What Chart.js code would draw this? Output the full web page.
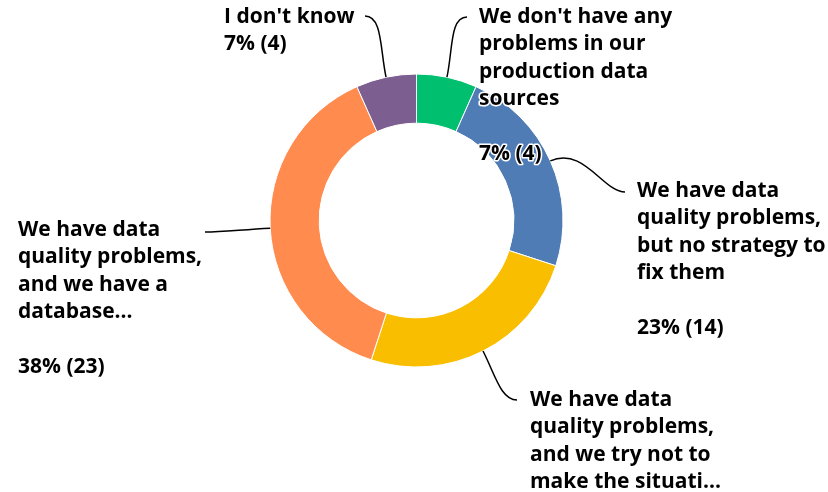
<!DOCTYPE html>
<html>
<head>
<meta charset="utf-8">
<script src="https://cdn.jsdelivr.net/npm/chart.js@4/dist/chart.umd.min.js"></script>
<style>
html,body{margin:0;padding:0;background:#fff;}
#wrap{width:828px;height:492px;position:relative;}
</style>
</head>
<body>
<div id="wrap"><canvas id="c" width="828" height="492"></canvas></div>
<script>
// ---- data ----
const categories = [
  ["We don't have any", "problems in our", "production data", "sources"],
  ["We have data", "quality problems,", "but no strategy to", "fix them"],
  ["We have data", "quality problems,", "and we try not to", "make the situati..."],
  ["We have data", "quality problems,", "and we have a", "database..."],
  ["I don't know"]
];
const counts = [4, 14, 15, 23, 4];
const colors = ["#00BF6F", "#507CB6", "#F9BE00", "#FF8B4F", "#7D5E90"];

// ---- label layout (positions of label text and leader-line end) ----
const labelLayout = [
  {x: 479, y: 17, gap: true,  ax: 467, ay: 17},
  {x: 637, y: 191, gap: true, ax: 625, ay: 192},
  {x: 530, y: 400, gap: true, ax: 517, ay: 400},
  {x: 18,  y: 230, gap: true, ax: 205, ay: 232},
  {x: 224, y: 17, gap: false, ax: 365, ay: 16}
];
const LINE_H = 27.5;
const FONT = "700 21px 'Open Sans'";

const total = counts.reduce((a, b) => a + b, 0);

const labelPlugin = {
  id: 'outLabels',
  afterDraw(chart) {
    const ctx = chart.ctx;
    const meta = chart.getDatasetMeta(0);
    ctx.save();
    // leader lines
    ctx.strokeStyle = '#000';
    ctx.lineWidth = 1.5;
    meta.data.forEach((arc, i) => {
      const p = arc.getProps(['x', 'y', 'startAngle', 'endAngle', 'outerRadius'], true);
      const mid = (p.startAngle + p.endAngle) / 2;
      const sx = p.x + Math.cos(mid) * p.outerRadius;
      const sy = p.y + Math.sin(mid) * p.outerRadius;
      const L = labelLayout[i];
      const d = Math.hypot(L.ax - sx, L.ay - sy);
      const k = d * 0.45;
      const c1x = sx + Math.cos(mid) * k;
      const c1y = sy + Math.sin(mid) * k;
      const dir = L.ax > sx ? -1 : 1;
      const c2x = L.ax + dir * k * 0.6;
      const c2y = L.ay;
      ctx.beginPath();
      ctx.moveTo(sx, sy);
      ctx.bezierCurveTo(c1x, c1y, c2x, c2y, L.ax, L.ay);
      ctx.stroke();
    });
    // label texts (with white halo)
    ctx.font = FONT;
    ctx.textBaseline = 'middle';
    ctx.textAlign = 'left';
    ctx.lineJoin = 'round';
    ctx.strokeStyle = '#ffffff';
    ctx.lineWidth = 3;
    ctx.fillStyle = '#000';
    categories.forEach((lines, i) => {
      const L = labelLayout[i];
      let y = L.y;
      const out = lines.slice();
      const ys = [];
      lines.forEach(() => { ys.push(y); y += LINE_H; });
      if (L.gap) y += LINE_H;
      out.push(Math.round(counts[i] / total * 100) + '% (' + counts[i] + ')');
      ys.push(y);
      out.forEach((t, j) => { ctx.strokeText(t, L.x, ys[j]); ctx.fillText(t, L.x, ys[j]); });
    });
    ctx.restore();
  }
};

new Chart(document.getElementById('c'), {
  type: 'doughnut',
  data: {
    labels: categories.map(l => l.join(' ')),
    datasets: [{
      data: counts,
      backgroundColor: colors,
      borderColor: '#ffffff',
      borderWidth: 1,
      hoverOffset: 0
    }]
  },
  options: {
    responsive: false,
    animation: false,
    radius: 146.5,
    cutout: 97,
    layout: {padding: {left: 270, right: 265, top: 74, bottom: 125}},
    plugins: {legend: {display: false}, tooltip: {enabled: false}}
  },
  plugins: [labelPlugin]
});
</script>
</body>
</html>
